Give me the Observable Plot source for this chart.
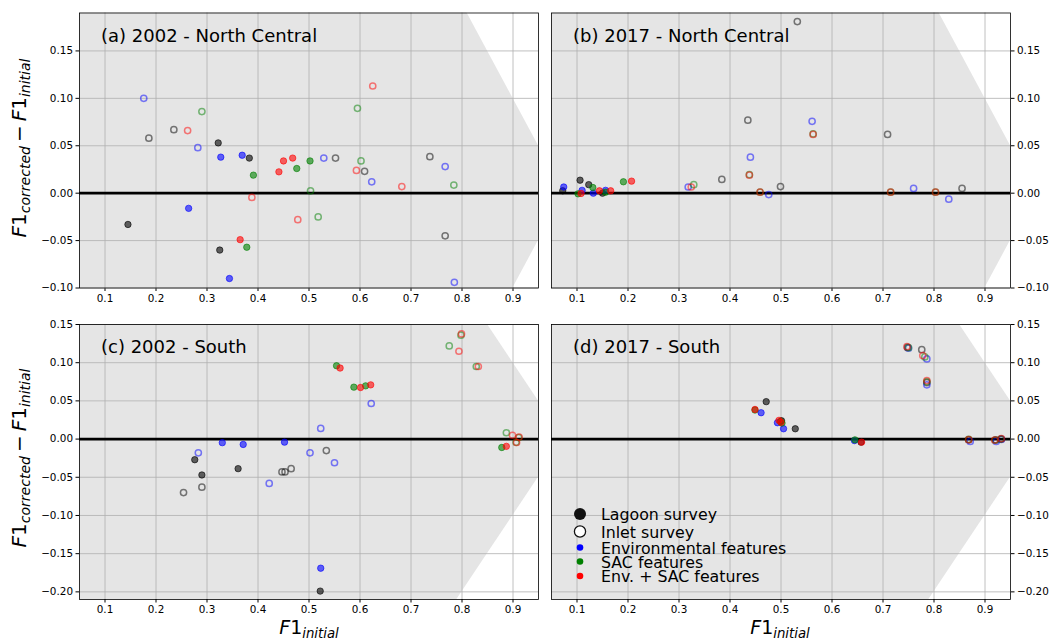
<!DOCTYPE html>
<html>
<head>
<meta charset="utf-8">
<script src="https://cdn.jsdelivr.net/npm/d3@7"></script>
<script src="https://cdn.jsdelivr.net/npm/@observablehq/plot@0.6"></script>
<style>
  body { margin: 0; background: #fff; }
  #fig { position: relative; width: 1052px; height: 642px; font-family: "DejaVu Sans", sans-serif; }
  #fig > svg { position: absolute; }
</style>
</head>
<body>
<div id="fig"></div>
<script>
// Feature sets used for the correction, drawn in this order
const featureSets = ["none", "env", "sac", "both"];
const featureColors = ["#000000", "#0000ff", "#008000", "#ff0000"];
const featureLabels = ["", "Environmental features", "SAC features", "Env. + SAC features"];
const surveys = ["lagoon", "inlet"];
const surveyLabels = ["Lagoon survey", "Inlet survey"];

const xTicks = [0.1, 0.2, 0.3, 0.4, 0.5, 0.6, 0.7, 0.8, 0.9];
const yTicksNorth = [-0.1, -0.05, 0, 0.05, 0.1, 0.15];
const yTicksSouth = [-0.2, -0.15, -0.1, -0.05, 0, 0.05, 0.1, 0.15];

// rows: [F1 initial, F1 corrected - F1 initial, feature set, survey]
const northCentral2002 = [
  [0.145, -0.033, "none", "lagoon"], [0.322, 0.053, "none", "lagoon"], [0.325, -0.060, "none", "lagoon"], [0.383, 0.037, "none", "lagoon"],
  [0.186, 0.058, "none", "inlet"], [0.235, 0.067, "none", "inlet"], [0.552, 0.037, "none", "inlet"], [0.609, 0.023, "none", "inlet"], [0.737, 0.0385, "none", "inlet"], [0.767, -0.045, "none", "inlet"],
  [0.264, -0.016, "env", "lagoon"], [0.327, 0.038, "env", "lagoon"], [0.369, 0.040, "env", "lagoon"], [0.344, -0.090, "env", "lagoon"],
  [0.176, 0.100, "env", "inlet"], [0.282, 0.048, "env", "inlet"], [0.529, 0.037, "env", "inlet"], [0.623, 0.012, "env", "inlet"], [0.767, 0.028, "env", "inlet"], [0.785, -0.094, "env", "inlet"],
  [0.391, 0.019, "sac", "lagoon"], [0.378, -0.057, "sac", "lagoon"], [0.476, 0.026, "sac", "lagoon"], [0.502, 0.034, "sac", "lagoon"],
  [0.290, 0.086, "sac", "inlet"], [0.503, 0.0025, "sac", "inlet"], [0.518, -0.025, "sac", "inlet"], [0.595, 0.0895, "sac", "inlet"], [0.602, 0.034, "sac", "inlet"], [0.784, 0.0085, "sac", "inlet"],
  [0.365, -0.049, "both", "lagoon"], [0.441, 0.0225, "both", "lagoon"], [0.450, 0.034, "both", "lagoon"], [0.468, 0.037, "both", "lagoon"],
  [0.262, 0.066, "both", "inlet"], [0.388, -0.0045, "both", "inlet"], [0.478, -0.028, "both", "inlet"], [0.593, 0.024, "both", "inlet"], [0.625, 0.113, "both", "inlet"], [0.682, 0.007, "both", "inlet"]
];

const northCentral2017 = [
  [0.072, 0.0025, "none", "lagoon"], [0.106, 0.0137, "none", "lagoon"], [0.123, 0.009, "none", "lagoon"], [0.150, 0.000, "none", "lagoon"],
  [0.384, 0.0145, "none", "inlet"], [0.435, 0.077, "none", "inlet"], [0.499, 0.007, "none", "inlet"], [0.532, 0.181, "none", "inlet"], [0.709, 0.062, "none", "inlet"], [0.855, 0.005, "none", "inlet"],
  [0.074, 0.0065, "env", "lagoon"], [0.110, 0.003, "env", "lagoon"], [0.132, 0.000, "env", "lagoon"], [0.156, 0.003, "env", "lagoon"],
  [0.318, 0.0065, "env", "inlet"], [0.440, 0.038, "env", "inlet"], [0.476, -0.0015, "env", "inlet"], [0.561, 0.0758, "env", "inlet"], [0.760, 0.005, "env", "inlet"], [0.829, -0.0063, "env", "inlet"],
  [0.102, -0.0007, "sac", "lagoon"], [0.131, 0.006, "sac", "lagoon"], [0.156, 0.001, "sac", "lagoon"], [0.191, 0.012, "sac", "lagoon"],
  [0.329, 0.009, "sac", "inlet"], [0.438, 0.0195, "sac", "inlet"], [0.459, 0.001, "sac", "inlet"], [0.563, 0.0625, "sac", "inlet"], [0.715, 0.001, "sac", "inlet"], [0.803, 0.001, "sac", "inlet"],
  [0.108, -0.0003, "both", "lagoon"], [0.144, 0.0025, "both", "lagoon"], [0.166, 0.0025, "both", "lagoon"], [0.207, 0.0127, "both", "lagoon"],
  [0.324, 0.0065, "both", "inlet"], [0.438, 0.019, "both", "inlet"], [0.459, 0.001, "both", "inlet"], [0.563, 0.062, "both", "inlet"], [0.715, 0.001, "both", "inlet"], [0.803, 0.001, "both", "inlet"]
];

const south2002 = [
  [0.276, -0.027, "none", "lagoon"], [0.290, -0.047, "none", "lagoon"], [0.361, -0.0387, "none", "lagoon"], [0.522, -0.199, "none", "lagoon"],
  [0.254, -0.070, "none", "inlet"], [0.290, -0.063, "none", "inlet"], [0.447, -0.043, "none", "inlet"], [0.453, -0.043, "none", "inlet"], [0.465, -0.0387, "none", "inlet"], [0.534, -0.015, "none", "inlet"],
  [0.330, -0.0047, "env", "lagoon"], [0.371, -0.007, "env", "lagoon"], [0.452, -0.004, "env", "lagoon"], [0.523, -0.169, "env", "lagoon"],
  [0.283, -0.018, "env", "inlet"], [0.422, -0.058, "env", "inlet"], [0.502, -0.018, "env", "inlet"], [0.523, 0.014, "env", "inlet"], [0.550, -0.031, "env", "inlet"], [0.622, 0.0466, "env", "inlet"],
  [0.554, 0.096, "sac", "lagoon"], [0.588, 0.068, "sac", "lagoon"], [0.611, 0.0697, "sac", "lagoon"], [0.878, -0.011, "sac", "lagoon"],
  [0.775, 0.122, "sac", "inlet"], [0.798, 0.136, "sac", "inlet"], [0.828, 0.095, "sac", "inlet"], [0.887, 0.0083, "sac", "inlet"], [0.906, -0.0043, "sac", "inlet"], [0.911, 0.002, "sac", "inlet"],
  [0.561, 0.093, "both", "lagoon"], [0.601, 0.0675, "both", "lagoon"], [0.621, 0.071, "both", "lagoon"], [0.887, -0.0095, "both", "lagoon"],
  [0.794, 0.115, "both", "inlet"], [0.799, 0.1376, "both", "inlet"], [0.832, 0.095, "both", "inlet"], [0.899, 0.005, "both", "inlet"], [0.912, 0.0026, "both", "inlet"], [0.907, -0.0045, "both", "inlet"]
];

const south2017 = [
  [0.471, 0.049, "none", "lagoon"], [0.501, 0.024, "none", "lagoon"], [0.528, 0.0135, "none", "lagoon"], [0.657, -0.004, "none", "lagoon"],
  [0.748, 0.120, "none", "inlet"], [0.776, 0.117, "none", "inlet"], [0.786, 0.074, "none", "inlet"], [0.868, -0.001, "none", "inlet"], [0.921, -0.001, "none", "inlet"], [0.932, 0.000, "none", "inlet"],
  [0.461, 0.0345, "env", "lagoon"], [0.493, 0.0214, "env", "lagoon"], [0.505, 0.0135, "env", "lagoon"], [0.644, -0.002, "env", "lagoon"],
  [0.750, 0.119, "env", "inlet"], [0.786, 0.105, "env", "inlet"], [0.786, 0.071, "env", "inlet"], [0.871, -0.003, "env", "inlet"], [0.922, -0.003, "env", "inlet"], [0.932, -0.0005, "env", "inlet"],
  [0.449, 0.038, "sac", "lagoon"], [0.499, 0.023, "sac", "lagoon"], [0.502, 0.021, "sac", "lagoon"], [0.645, -0.001, "sac", "lagoon"],
  [0.750, 0.1197, "sac", "inlet"], [0.782, 0.1075, "sac", "inlet"], [0.786, 0.0753, "sac", "inlet"], [0.868, -0.0005, "sac", "inlet"], [0.920, -0.0015, "sac", "inlet"], [0.931, 0.000, "sac", "inlet"],
  [0.449, 0.0388, "both", "lagoon"], [0.496, 0.0245, "both", "lagoon"], [0.500, 0.022, "both", "lagoon"], [0.658, -0.004, "both", "lagoon"],
  [0.747, 0.121, "both", "inlet"], [0.778, 0.1093, "both", "inlet"], [0.786, 0.0766, "both", "inlet"], [0.868, -0.0008, "both", "inlet"], [0.919, -0.0013, "both", "inlet"], [0.932, 0.0005, "both", "inlet"]
];

// The correction can never push F1 outside [0, 1]: |delta| <= 1 - F1 initial
const bandEdge = [0, 1];

const fig = document.getElementById("fig");

function panel({rows, title, yDomain, yTicks, side, left, top, width, height, margin}) {
  const dotMarks = [];
  featureSets.forEach((set, i) => {
    const color = featureColors[i];
    const lagoon = rows.filter(r => r[2] === set && r[3] === "lagoon");
    const inlet = rows.filter(r => r[2] === set && r[3] === "inlet");
    dotMarks.push(Plot.dot(lagoon, {
      x: r => r[0], y: r => r[1], r: 3.2,
      fill: color, fillOpacity: 0.6, stroke: color, strokeOpacity: 0.6, strokeWidth: 1
    }));
    dotMarks.push(Plot.dot(inlet, {
      x: r => r[0], y: r => r[1], r: 3.1,
      fill: "none", stroke: color, strokeOpacity: 0.5, strokeWidth: 1.5
    }));
  });

  const chart = Plot.plot({
    width, height,
    marginLeft: margin[3], marginRight: margin[1], marginTop: margin[0], marginBottom: margin[2],
    style: { fontFamily: "DejaVu Sans, sans-serif", fontSize: "10.4px", background: "white", color: "black" },
    x: { domain: [0.05, 0.95], ticks: xTicks, tickFormat: d3.format(".1f"), tickSize: 3.5, tickPadding: 3, label: null },
    y: { domain: yDomain, ticks: yTicks, tickFormat: d3.format(".2f"), tickSize: 3.5, tickPadding: 3, axis: side, label: null },
    marks: [
      Plot.areaY(bandEdge, { x: d => d, y1: d => d - 1, y2: d => 1 - d, fill: "#e5e5e5", clip: true }),
      Plot.ruleX(xTicks, { stroke: "#b0b0b0", strokeWidth: 0.8 }),
      Plot.ruleY(yTicks, { stroke: "#b0b0b0", strokeWidth: 0.8 }),
      Plot.ruleY([0], { stroke: "black", strokeWidth: 2.6 }),
      ...dotMarks,
      Plot.text([title], { text: d => d, frameAnchor: "top-left", dx: 21.5, dy: 28.5, fontSize: 18, lineAnchor: "bottom", textAnchor: "start", fill: "black" }),
      Plot.frame({ stroke: "black", strokeWidth: 0.8 })
    ]
  });
  chart.style.left = left + "px";
  chart.style.top = top + "px";
  fig.appendChild(chart);
}

panel({ rows: northCentral2002, title: "(a) 2002 - North Central", yDomain: [-0.1, 0.19], yTicks: yTicksNorth, side: "left",
        left: 0, top: 0, width: 545, height: 312, margin: [12.5, 7, 24.5, 79] });
panel({ rows: northCentral2017, title: "(b) 2017 - North Central", yDomain: [-0.1, 0.19], yTicks: yTicksNorth, side: "right",
        left: 546, top: 0, width: 506, height: 312, margin: [12.5, 42, 24.5, 5] });
panel({ rows: south2002, title: "(c) 2002 - South", yDomain: [-0.21, 0.15], yTicks: yTicksSouth, side: "left",
        left: 0, top: 312, width: 545, height: 316, margin: [12, 7, 29, 79] });
panel({ rows: south2017, title: "(d) 2017 - South", yDomain: [-0.21, 0.15], yTicks: yTicksSouth, side: "right",
        left: 546, top: 312, width: 506, height: 316, margin: [12, 42, 29, 5] });

// Axis titles and legend, drawn on top of the four panels
const ns = "http://www.w3.org/2000/svg";
const overlay = document.createElementNS(ns, "svg");
overlay.setAttribute("width", 1052);
overlay.setAttribute("height", 642);
overlay.style.left = "0px";
overlay.style.top = "0px";
overlay.style.pointerEvents = "none";
overlay.setAttribute("font-family", "DejaVu Sans, sans-serif");

const yLabel = (cy) => `<text transform="translate(26,${cy}) rotate(-90)" text-anchor="middle" font-size="20" fill="black">` +
  `<tspan font-style="italic">F</tspan><tspan>1</tspan><tspan font-size="14" font-style="italic" dy="4">corrected</tspan>` +
  `<tspan dy="-4" dx="4">\u2212</tspan><tspan dx="4" font-style="italic">F</tspan><tspan>1</tspan>` +
  `<tspan font-size="14" font-style="italic" dy="4">initial</tspan></text>`;
const xLabel = (cx) => `<text x="${cx}" y="634" text-anchor="middle" font-size="19" fill="black">` +
  `<tspan font-style="italic">F</tspan><tspan>1</tspan><tspan font-size="13.3" font-style="italic" dy="4">initial</tspan></text>`;

let legend = "";
const legendX = 580, textX = 601;
legend += `<circle cx="${legendX}" cy="514" r="6" fill="#111"/>`;
legend += `<text x="${textX}" y="520" font-size="15.8">${surveyLabels[0]}</text>`;
legend += `<circle cx="${legendX}" cy="531.5" r="5.6" fill="white" stroke="#111" stroke-width="1.3"/>`;
legend += `<text x="${textX}" y="537.5" font-size="15.8">${surveyLabels[1]}</text>`;
const legendRows = [547.5, 561.5, 576];
[1, 2, 3].forEach((k, j) => {
  legend += `<circle cx="${legendX}" cy="${legendRows[j]}" r="3.3" fill="${featureColors[k]}"/>`;
  legend += `<text x="${textX}" y="${legendRows[j] + 6}" font-size="15.8">${featureLabels[k]}</text>`;
});

overlay.innerHTML = yLabel(148) + yLabel(458) + xLabel(309) + xLabel(780) + legend;
fig.appendChild(overlay);
</script>
</body>
</html>
